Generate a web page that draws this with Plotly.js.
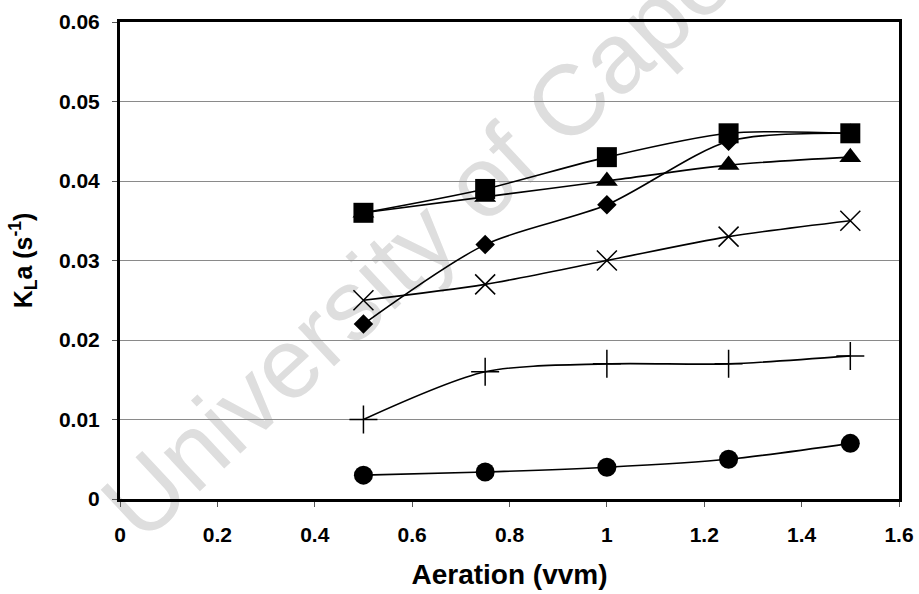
<!DOCTYPE html>
<html>
<head>
<meta charset="utf-8">
<script src="https://cdn.plot.ly/plotly-3.0.1.min.js"></script>
<style>
  html, body { margin: 0; padding: 0; background: #fff; }
  #chart { width: 919px; height: 594px; }
</style>
</head>
<body>
<div id="chart"></div>
<script>
// Aeration rates (vvm)
const aeration = [0.5, 0.75, 1.0, 1.25, 1.5];

// KLa values (1/s) for each series
const kla_square   = [0.036, 0.039, 0.043, 0.046, 0.046];
const kla_triangle = [0.036, 0.038, 0.040, 0.042, 0.043];
const kla_diamond  = [0.022, 0.032, 0.037, 0.045, 0.046];
const kla_cross    = [0.025, 0.027, 0.030, 0.033, 0.035];
const kla_plus     = [0.010, 0.016, 0.017, 0.017, 0.018];
const kla_circle   = [0.003, 0.0034, 0.004, 0.005, 0.007];

const xTicks = [0, 0.2, 0.4, 0.6, 0.8, 1, 1.2, 1.4, 1.6];
const xTickText = ['0', '0.2', '0.4', '0.6', '0.8', '1', '1.2', '1.4', '1.6'];
const yTicks = [0, 0.01, 0.02, 0.03, 0.04, 0.05, 0.06];
const yTickText = ['0', '0.01', '0.02', '0.03', '0.04', '0.05', '0.06'];

const FONT = 'Liberation Sans, Arial, sans-serif';

function series(y, symbol, size, openLine) {
  const marker = { symbol: symbol, size: size, color: '#000' };
  if (openLine) marker.line = { color: '#000', width: 1.5 };
  return {
    x: aeration, y: y, type: 'scatter', mode: 'lines+markers',
    line: { color: '#000', width: 1.6, shape: 'spline', smoothing: 0.8 },
    marker: marker, showlegend: false, cliponaxis: false
  };
}

const traces = [
  series(kla_circle, 'circle', 19),
  series(kla_plus, 'cross-thin-open', 20, true),
  series(kla_cross, 'x-thin-open', 20, true),
  series(kla_diamond, 'diamond', 15),
  series(kla_triangle, 'triangle-up', 19),
  series(kla_square, 'square', 20)
];

const layout = {
  width: 919, height: 594,
  margin: { l: 120, r: 20, t: 22, b: 95 },
  paper_bgcolor: '#fff', plot_bgcolor: '#fff',
  font: { family: FONT, color: '#000' },
  xaxis: {
    range: [0, 1.6], tickmode: 'array', tickvals: xTicks, ticktext: xTickText,
    showgrid: false, zeroline: false,
    showline: true, mirror: true, linecolor: '#000', linewidth: 3,
    ticks: 'outside', ticklen: 5, tickcolor: '#555', tickwidth: 1,
    ticklabelstandoff: 10,
    tickfont: { family: FONT, size: 21, weight: 'bold', color: '#000' },
    title: { text: 'Aeration (vvm)', font: { family: FONT, size: 28, weight: 'bold', color: '#000' }, standoff: 20 }
  },
  yaxis: {
    range: [0, 0.06], tickmode: 'array', tickvals: yTicks, ticktext: yTickText,
    showgrid: true, gridcolor: '#8a8a8a', gridwidth: 1, zeroline: false,
    showline: true, mirror: true, linecolor: '#000', linewidth: 3,
    ticks: 'outside', ticklen: 5, tickcolor: '#555', tickwidth: 1,
    ticklabelstandoff: 8,
    tickfont: { family: FONT, size: 21, weight: 'bold', color: '#000' },
    title: { text: 'K<sub>L</sub>a (s<sup>-1</sup>)', font: { family: FONT, size: 25, weight: 'bold', color: '#000' }, standoff: 20 }
  },
  shapes: [{
    // faint diagonal watermark behind the data
    type: 'rect', xref: 'paper', yref: 'paper',
    x0: 0.44, x1: 0.55, y0: 0.685, y1: 0.795,
    line: { width: 0 }, fillcolor: 'rgba(0,0,0,0)', layer: 'below',
    label: {
      text: 'University of Cape Town', textangle: -43,
      textposition: 'middle center',
      font: { family: FONT, size: 100, color: '#dedede' }
    }
  }]
};

Plotly.newPlot('chart', traces, layout, { displayModeBar: false, staticPlot: true });
</script>
</body>
</html>
